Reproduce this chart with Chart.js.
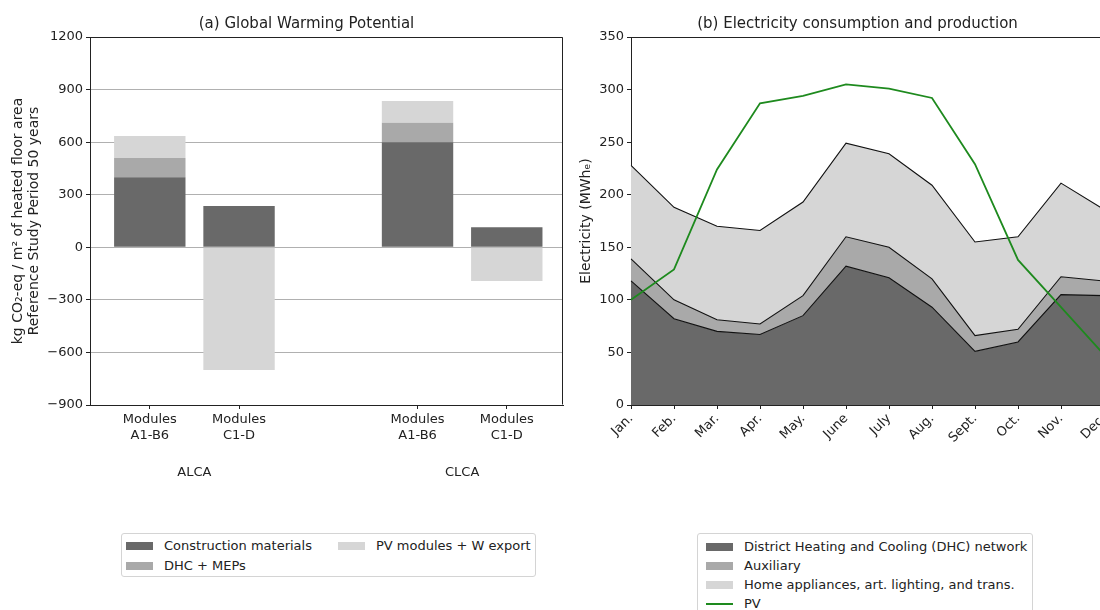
<!DOCTYPE html>
<html>
<head>
<meta charset="utf-8">
<script src="https://cdn.jsdelivr.net/npm/chart.js@4.4.1/dist/chart.umd.min.js"></script>
<style>
  html, body { margin: 0; padding: 0; width: 1100px; height: 610px; overflow: hidden; background: #fff; font-family: 'DejaVu Sans', sans-serif; }
  .wrap { position: absolute; }
  #gwpWrap { left: 0; top: 0; width: 612px; height: 500px; }
  #elecWrap { left: 565px; top: 0; width: 584px; height: 470px; }
  .legend { position: absolute; background: #fff; border: 1px solid #d4d4d4; border-radius: 3px; font-size: 13px; color: #222; box-sizing: border-box; }
  .legend ul { list-style: none; margin: 0; padding: 0; }
  .legend li { display: flex; align-items: center; height: 19px; white-space: nowrap; }
  .legend .sw { display: inline-block; width: 27px; height: 8px; margin-right: 11px; flex: none; }
  #gwpLegend { left: 121px; top: 533px; width: 415px; height: 44px; padding: 2px 0 0 4px; }
  #gwpLegend ul { display: grid; grid-template-rows: 20px 20px; grid-auto-flow: column; grid-template-columns: 212px auto; }
  #elecLegend { left: 697px; top: 533px; width: 336px; height: 90px; padding: 3px 0 0 8px; }
</style>
</head>
<body>
<div class="wrap" id="gwpWrap"><canvas id="gwp"></canvas></div>
<div class="wrap" id="elecWrap"><canvas id="elec"></canvas></div>
<div class="legend" id="gwpLegend"><ul></ul></div>
<div class="legend" id="elecLegend"><ul></ul></div>
<script>
// (a) Global Warming Potential, kg CO2-eq / m2
const GWP_POS = [0, 1, 3, 4]
const GWP_TICKS = [['Modules', 'A1-B6'], ['Modules', 'C1-D'], ['Modules', 'A1-B6'], ['Modules', 'C1-D']]
const GROUP_POS = [0.5, 3.5]
const GROUP_LABELS = ['ALCA', 'CLCA']
const CONSTRUCTION = [400, 235, 600, 115]
const DHC_MEP = [110, null, 110, null]
const PV_EXPORT = [125, -700, 125, -193]

// (b) Electricity consumption and production, MWh_e
const MONTHS = ['Jan.', 'Feb.', 'Mar.', 'Apr.', 'May.', 'June', 'July', 'Aug.', 'Sept.', 'Oct.', 'Nov.', 'Dec.']
const DHC_NET = [118, 82, 70, 67, 85, 132, 121, 93, 51, 60, 105, 104]
const AUXILIARY = [21, 18, 11, 10, 19, 28, 29, 27, 15, 12, 17, 14]
const HOME = [89, 88, 89, 89, 89, 89, 89, 89, 89, 88, 89, 68]
const PV = [100, 129, 224, 287, 294, 305, 301, 292, 229, 138, 93, 48]

const DARK = '#696969'
const MID = '#a9a9a9'
const LIGHT = '#d6d6d6'
const INK = '#222'

Chart.defaults.font.family = "'DejaVu Sans', sans-serif"
Chart.defaults.color = INK
Chart.defaults.animation = false

function points(values) {
  return GWP_POS.map((x, i) => ({ x: x, y: values[i] })).filter((p) => p.y !== null)
}

function minusSign(v) {
  return v < 0 ? '\u2212' + Math.abs(v) : String(v)
}

// top + right spines
const framePlugin = {
  id: 'frame',
  afterDraw(chart) {
    const { ctx, chartArea } = chart
    const l = Math.round(chartArea.left) + 0.5
    const r = Math.round(chartArea.right) - 0.5
    const t = Math.round(chartArea.top) + 0.5
    const b = Math.round(chartArea.bottom) - 0.5
    ctx.save()
    ctx.strokeStyle = INK
    ctx.lineWidth = 1
    ctx.beginPath()
    ctx.moveTo(l, t)
    ctx.lineTo(r, t)
    ctx.lineTo(r, b)
    ctx.stroke()
    ctx.restore()
  },
}

// panel title, a bit left of the plot centre like the original
const panelTitle = {
  id: 'panelTitle',
  afterDraw(chart, args, opts) {
    const { ctx, chartArea } = chart
    ctx.save()
    ctx.font = "15px 'DejaVu Sans'"
    ctx.fillStyle = INK
    ctx.textAlign = 'center'
    ctx.textBaseline = 'middle'
    ctx.fillText(opts.text, (chartArea.left + chartArea.right) / 2 + opts.shift, opts.y)
    ctx.restore()
  },
}

const htmlLegend = {
  id: 'htmlLegend',
  afterUpdate(chart, args, opts) {
    const ul = document.querySelector('#' + opts.containerID + ' ul')
    ul.innerHTML = ''
    const items = chart.options.plugins.legend.labels.generateLabels(chart)
    items.sort((a, b) => a.datasetIndex - b.datasetIndex)
    items.forEach((item) => {
      const li = document.createElement('li')
      const sw = document.createElement('span')
      sw.className = 'sw'
      if (chart.data.datasets[item.datasetIndex].fill === false) {
        sw.style.height = '2px'
        sw.style.background = item.strokeStyle
      } else {
        sw.style.background = item.fillStyle
      }
      const txt = document.createElement('span')
      txt.textContent = item.text
      li.appendChild(sw)
      li.appendChild(txt)
      ul.appendChild(li)
    })
  },
}

const tickFont = { size: 13 }
const axisGrid = { drawOnChartArea: false, tickLength: 4, tickColor: INK, offset: false }

new Chart(document.getElementById('gwp'), {
  type: 'bar',
  data: {
    datasets: [
      { label: 'Construction materials', data: points(CONSTRUCTION), backgroundColor: DARK },
      { label: 'DHC + MEPs', data: points(DHC_MEP), backgroundColor: MID },
      { label: 'PV modules + W export', data: points(PV_EXPORT), backgroundColor: LIGHT },
    ],
  },
  options: {
    responsive: true,
    maintainAspectRatio: false,
    layout: { padding: { left: 0, right: 49, top: 37, bottom: 10 } },
    datasets: { bar: { barPercentage: 1, categoryPercentage: 0.8 } },
    plugins: {
      legend: { display: false },
      tooltip: { enabled: false },
      htmlLegend: { containerID: 'gwpLegend' },
      panelTitle: { text: '(a) Global Warming Potential', shift: -20, y: 24 },
    },
    scales: {
      x: {
        type: 'linear',
        min: -0.67,
        max: 4.63,
        stacked: true,
        offset: false,
        afterBuildTicks: (s) => { s.ticks = GWP_POS.map((v) => ({ value: v })) },
        afterFit: (s) => { s.height = 45 },
        ticks: { callback: (v, i) => GWP_TICKS[i], autoSkip: false, maxRotation: 0, font: tickFont, padding: 3 },
        grid: axisGrid,
        border: { color: INK },
      },
      x2: {
        type: 'linear',
        position: 'bottom',
        min: -0.67,
        max: 4.63,
        offset: false,
        afterBuildTicks: (s) => { s.ticks = GROUP_POS.map((v) => ({ value: v })) },
        afterFit: (s) => { s.height = 40 },
        ticks: { callback: (v, i) => GROUP_LABELS[i], autoSkip: false, maxRotation: 0, font: tickFont, padding: 7 },
        grid: { display: false },
        border: { display: false },
      },
      y: {
        min: -900,
        max: 1200,
        stacked: true,
        z: 1,
        afterFit: (s) => { s.width = 90 },
        ticks: { stepSize: 300, font: tickFont, padding: 3, callback: minusSign },
        grid: { color: '#b0b0b0', tickColor: INK, tickLength: 4 },
        border: { color: INK },
        title: {
          display: true,
          text: ['kg CO\u2082-eq / m\u00b2 of heated floor area', 'Reference Study Period 50 years'],
          font: { size: 14, lineHeight: 1.1 },
          padding: { top: 11, bottom: 4 },
        },
      },
    },
  },
  plugins: [framePlugin, panelTitle, htmlLegend],
})

new Chart(document.getElementById('elec'), {
  type: 'line',
  data: {
    labels: MONTHS,
    datasets: [
      { label: 'District Heating and Cooling (DHC) network', data: DHC_NET, backgroundColor: DARK, borderColor: '#111', fill: 'origin', stack: 'use' },
      { label: 'Auxiliary', data: AUXILIARY, backgroundColor: MID, borderColor: '#111', fill: '-1', stack: 'use' },
      { label: 'Home appliances, art. lighting, and trans.', data: HOME, backgroundColor: LIGHT, borderColor: '#111', fill: '-1', stack: 'use' },
      { label: 'PV', data: PV, borderColor: '#1e8a1e', backgroundColor: '#1e8a1e', borderWidth: 1.8, fill: false, stack: 'pv', order: -1 },
    ],
  },
  options: {
    responsive: true,
    maintainAspectRatio: false,
    layout: { padding: { left: 0, right: 45, top: 37, bottom: 0 } },
    elements: { line: { tension: 0, borderWidth: 1.1 }, point: { radius: 0 } },
    plugins: {
      legend: { display: false },
      tooltip: { enabled: false },
      htmlLegend: { containerID: 'elecLegend' },
      panelTitle: { text: '(b) Electricity consumption and production', shift: -10, y: 24 },
    },
    scales: {
      x: {
        offset: false,
        afterFit: (s) => { s.height = 65 },
        ticks: { autoSkip: false, minRotation: 45, maxRotation: 45, font: { size: 13 }, padding: 2 },
        grid: axisGrid,
        border: { color: INK },
      },
      y: {
        min: 0,
        max: 350,
        stacked: true,
        afterFit: (s) => { s.width = 66 },
        ticks: { stepSize: 50, font: tickFont, padding: 3 },
        grid: axisGrid,
        border: { color: INK },
        title: {
          display: true,
          text: 'Electricity (MWh\u2091)',
          font: { size: 14 },
          padding: { top: 12.5, bottom: 4 },
        },
      },
    },
  },
  plugins: [framePlugin, panelTitle, htmlLegend],
})
</script>
</body>
</html>
